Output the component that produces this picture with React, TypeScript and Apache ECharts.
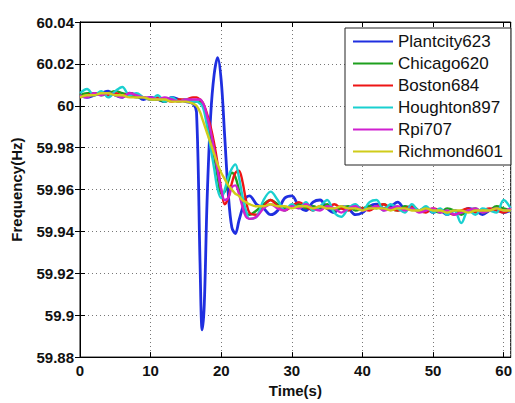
import React, { useEffect, useRef } from "react";
import * as echarts from "echarts";

const time = [
  0, 1, 2, 3, 4, 5, 6, 7, 8, 9, 10, 11, 12, 13, 14, 15, 16,
  16.5, 17, 17.3, 17.6, 18, 18.5, 19, 19.5, 20, 20.5, 21, 21.5, 22, 22.5, 23, 23.5, 24,
  25, 26, 27, 28, 29, 30, 31, 32, 33, 34, 35, 36, 37, 38, 39, 40, 41, 42, 43,
  44, 45, 46, 47, 48, 49, 50, 51, 52, 53, 54, 55, 56, 57, 58, 59, 60, 61,
];

const plantcity623 = [
  60.005, 60.004, 60.005, 60.006, 60.007, 60.005, 60.004, 60.006, 60.005, 60.003, 60.004, 60.003, 60.002, 60.004, 60.003, 60.002, 60.001,
  59.997, 59.925, 59.893, 59.905, 59.955, 59.995, 60.015, 60.023, 60.012, 59.985, 59.958, 59.942, 59.939, 59.945, 59.951, 59.956, 59.957,
  59.953, 59.951, 59.948, 59.95, 59.956, 59.957, 59.952, 59.95, 59.954, 59.955, 59.951, 59.949, 59.952, 59.951, 59.948, 59.949, 59.952, 59.953, 59.951,
  59.952, 59.954, 59.951, 59.952, 59.95, 59.951, 59.949, 59.95, 59.948, 59.95, 59.949, 59.951, 59.95, 59.948, 59.95, 59.951, 59.949, 59.95,
];

const chicago620 = [
  60.005, 60.006, 60.006, 60.005, 60.006, 60.007, 60.006, 60.005, 60.004, 60.004, 60.003, 60.003, 60.002, 60.003, 60.002, 60.003, 60.002,
  60.002, 60.002, 60.001, 59.999, 59.994, 59.985, 59.976, 59.966, 59.958, 59.959, 59.964, 59.968, 59.966, 59.96, 59.953, 59.949, 59.948,
  59.95, 59.953, 59.955, 59.953, 59.951, 59.952, 59.953, 59.951, 59.952, 59.951, 59.953, 59.95, 59.951, 59.952, 59.95, 59.951, 59.952, 59.951, 59.953,
  59.951, 59.95, 59.952, 59.951, 59.95, 59.951, 59.95, 59.949, 59.951, 59.95, 59.948, 59.95, 59.951, 59.949, 59.95, 59.952, 59.951, 59.95,
];

const boston684 = [
  60.004, 60.005, 60.006, 60.006, 60.005, 60.006, 60.005, 60.006, 60.005, 60.004, 60.003, 60.004, 60.003, 60.002, 60.003, 60.003, 60.004,
  60.004, 60.003, 60.002, 60.0, 59.996, 59.99, 59.982, 59.972, 59.96, 59.953, 59.956, 59.963, 59.968, 59.969, 59.964, 59.955, 59.949,
  59.948, 59.952, 59.955, 59.952, 59.95, 59.952, 59.954, 59.952, 59.95, 59.952, 59.951, 59.953, 59.951, 59.95, 59.952, 59.951, 59.95, 59.952, 59.953,
  59.951, 59.95, 59.951, 59.952, 59.95, 59.949, 59.951, 59.95, 59.949, 59.948, 59.95, 59.951, 59.949, 59.95, 59.951, 59.95, 59.949, 59.951,
];

const houghton897 = [
  60.006, 60.008, 60.005, 60.007, 60.004, 60.007, 60.009, 60.005, 60.006, 60.004, 60.003, 60.005, 60.002, 60.004, 60.002, 60.003, 60.002,
  60.002, 60.001, 60.0, 59.997, 59.99, 59.98, 59.97, 59.96, 59.956, 59.96, 59.966, 59.97, 59.972, 59.966, 59.957, 59.95, 59.946,
  59.947, 59.955, 59.959, 59.955, 59.95, 59.953, 59.951, 59.954, 59.95, 59.952, 59.955, 59.949, 59.947, 59.951, 59.953, 59.95, 59.954, 59.955, 59.95,
  59.953, 59.951, 59.949, 59.953, 59.95, 59.952, 59.949, 59.951, 59.948, 59.95, 59.944, 59.95, 59.948, 59.951, 59.95, 59.949, 59.955, 59.951,
];

const rpi707 = [
  60.005, 60.004, 60.006, 60.005, 60.006, 60.005, 60.004, 60.006, 60.005, 60.004, 60.004, 60.003, 60.004, 60.003, 60.002, 60.003, 60.003,
  60.003, 60.003, 60.002, 60.0, 59.995, 59.988, 59.979, 59.969, 59.96, 59.955, 59.956, 59.961, 59.962, 59.958, 59.952, 59.947, 59.946,
  59.947, 59.951, 59.953, 59.951, 59.95, 59.952, 59.951, 59.953, 59.951, 59.95, 59.952, 59.951, 59.949, 59.951, 59.952, 59.95, 59.951, 59.952, 59.95,
  59.951, 59.952, 59.95, 59.951, 59.949, 59.95, 59.951, 59.949, 59.95, 59.948, 59.949, 59.95, 59.951, 59.949, 59.95, 59.951, 59.95, 59.951,
];

const richmond601 = [
  60.004, 60.005, 60.005, 60.006, 60.006, 60.005, 60.005, 60.004, 60.004, 60.004, 60.003, 60.003, 60.003, 60.002, 60.002, 60.002, 60.001,
  60.0, 59.997, 59.994, 59.991, 59.987, 59.982, 59.977, 59.972, 59.968, 59.965, 59.962, 59.96, 59.958, 59.957, 59.955, 59.954, 59.953,
  59.952, 59.952, 59.953, 59.952, 59.952, 59.951, 59.952, 59.952, 59.951, 59.952, 59.951, 59.951, 59.952, 59.951, 59.951, 59.95, 59.951, 59.951, 59.951,
  59.95, 59.951, 59.951, 59.95, 59.95, 59.951, 59.95, 59.95, 59.949, 59.95, 59.95, 59.949, 59.95, 59.95, 59.95, 59.951, 59.95, 59.95,
];

const seriesNames = ["Plantcity623", "Chicago620", "Boston684", "Houghton897", "Rpi707", "Richmond601"];
const seriesValues = [plantcity623, chicago620, boston684, houghton897, rpi707, richmond601];
const seriesColors = ["#1f2fe0", "#1ea01e", "#ee1515", "#1ad0d0", "#d020d0", "#d0cc1a"];

const FONT = "'Liberation Sans', Arial, Helvetica, sans-serif";

export default function App() {
  const ref = useRef<HTMLDivElement>(null);
  useEffect(() => {
    if (!ref.current) return;
    const chart = echarts.init(ref.current, null, { renderer: "svg" });
    const gridLine = { show: true, lineStyle: { color: "#777", type: [1, 3] as any, width: 1 } };
    const tick = { show: true, inside: true, length: 5, lineStyle: { color: "#000" } };
    const axisLine = { show: true, lineStyle: { color: "#000", width: 1 } };
    const labelStyle = { fontFamily: FONT, fontSize: 15, fontWeight: "bold" as const, color: "#111" };
    chart.setOption({
      animation: false,
      backgroundColor: "#fff",
      grid: { left: 80, top: 22, right: 2, bottom: 39, show: true, borderColor: "#000", borderWidth: 1, backgroundColor: "#fff" },
      xAxis: [
        {
          type: "value", min: 0, max: 61, interval: 10, position: "bottom",
          name: "Time(s)", nameLocation: "middle", nameGap: 23,
          nameTextStyle: labelStyle,
          axisLabel: { ...labelStyle, margin: 6 },
          axisTick: tick, axisLine, splitLine: gridLine,
        },
        {
          type: "value", min: 0, max: 61, interval: 10, position: "top",
          axisLabel: { show: false }, axisTick: tick, axisLine, splitLine: { show: false },
        },
      ],
      yAxis: [
        {
          type: "value", min: 59.88, max: 60.04, interval: 0.02, position: "left",
          name: "Frequency(Hz)", nameLocation: "middle", nameGap: 56,
          nameTextStyle: labelStyle,
          axisLabel: {
            ...labelStyle, margin: 6,
            formatter: (v: number) => String(parseFloat(v.toFixed(2))),
          },
          axisTick: tick, axisLine, splitLine: gridLine,
        },
        {
          type: "value", min: 59.88, max: 60.04, interval: 0.02, position: "right",
          axisLabel: { show: false }, axisTick: tick, axisLine, splitLine: { show: false },
        },
      ],
      legend: {
        orient: "vertical", left: 345, top: 28,
        padding: [5, 8, 5, 8], itemGap: 5, itemWidth: 40, itemHeight: 2, icon: "rect",
        backgroundColor: "#fff", borderColor: "#222", borderWidth: 1,
        textStyle: { fontFamily: FONT, fontSize: 17, color: "#111", lineHeight: 17 },
        data: seriesNames,
      },
      series: seriesNames.map((name, i) => ({
        name, type: "line", xAxisIndex: 0, yAxisIndex: 0,
        data: time.map((t, j) => [t, seriesValues[i][j]]),
        smooth: 0.35, symbol: "none",
        lineStyle: { color: seriesColors[i], width: i === 0 ? 2.8 : 2.4 },
        itemStyle: { color: seriesColors[i] },
      })),
    });
    return () => chart.dispose();
  }, []);
  return <div ref={ref} style={{ position: "fixed", left: 0, top: 0, width: 515, height: 403 }} />;
}
